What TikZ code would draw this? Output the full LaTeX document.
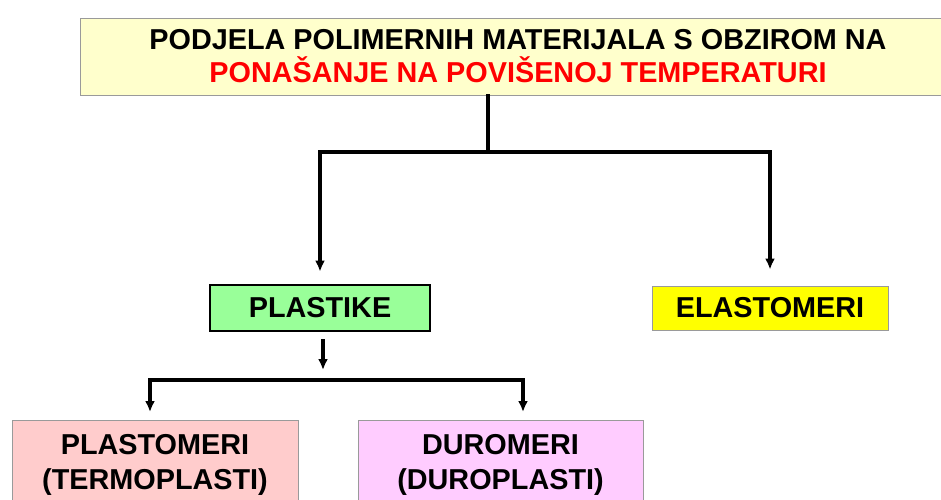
\documentclass[tikz,border=0pt]{standalone}
\usepackage{fontspec}
\setmainfont{Liberation Sans}
\usepackage{xcolor}
\definecolor{topfill}{HTML}{FFFFCC}
\definecolor{plastfill}{HTML}{99FF99}
\definecolor{elastfill}{HTML}{FFFF00}
\definecolor{termofill}{HTML}{FFCCCC}
\definecolor{durofill}{HTML}{FFCCFF}
\definecolor{framegray}{HTML}{9A9A9A}
\definecolor{hotred}{HTML}{FF0000}
\usetikzlibrary{arrows.meta}

\begin{document}
\begin{tikzpicture}[x=1pt,y=-1pt,
  font=\fontsize{28.8}{33}\selectfont\bfseries,
  >={Latex[length=11pt,width=10pt]},
  box/.style={draw=framegray,line width=0.9pt,align=center,inner sep=0pt},
  link/.style={line width=3.4pt,line cap=rect},
  arr/.style={line width=3.4pt,->}]
  \path[use as bounding box,clip] (0,0) rectangle (941,499);
  \node[box,fill=topfill,minimum width=876pt,minimum height=77pt] (top) at (518,56.5)
    {PODJELA POLIMERNIH MATERIJALA S OBZIROM NA\\
     \textcolor{hotred}{PONAŠANJE NA POVIŠENOJ TEMPERATURI}};
  \node[box,draw=black,line width=2.8pt,fill=plastfill,
        minimum width=220pt,minimum height=46pt] (plast) at (320,308) {PLASTIKE};
  \node[box,fill=elastfill,minimum width=236pt,minimum height=44pt] (elast) at (770,308) {ELASTOMERI};
  \node[box,fill=termofill,minimum width=286pt,minimum height=90pt,
        font=\fontsize{28.8}{35}\selectfont\bfseries] (termo) at (155,465)
    {PLASTOMERI\\(TERMOPLASTI)};
  \node[box,fill=durofill,minimum width=285pt,minimum height=90pt,
        font=\fontsize{28.8}{35}\selectfont\bfseries] (duro) at (500.5,465)
    {DUROMERI\\(DUROPLASTI)};
  % upper branch
  \coordinate (split) at (488,152);
  \draw[link] (top.south -| split) -- (split);
  \draw[arr] (split) -| ([yshift=12pt]plast.north);
  \draw[arr] (split) -| ([yshift=16pt]elast.north);
  % lower branch
  \coordinate (split2) at (323,380);
  \coordinate (left2) at (150,412);
  \coordinate (right2) at (523,412);
  \draw[arr] ([yshift=-7pt]plast.south -| split2) -- ([yshift=10pt]split2);
  \draw[arr] (split2) -| (left2);
  \draw[arr] (split2) -| (right2);
\end{tikzpicture}
\end{document}
